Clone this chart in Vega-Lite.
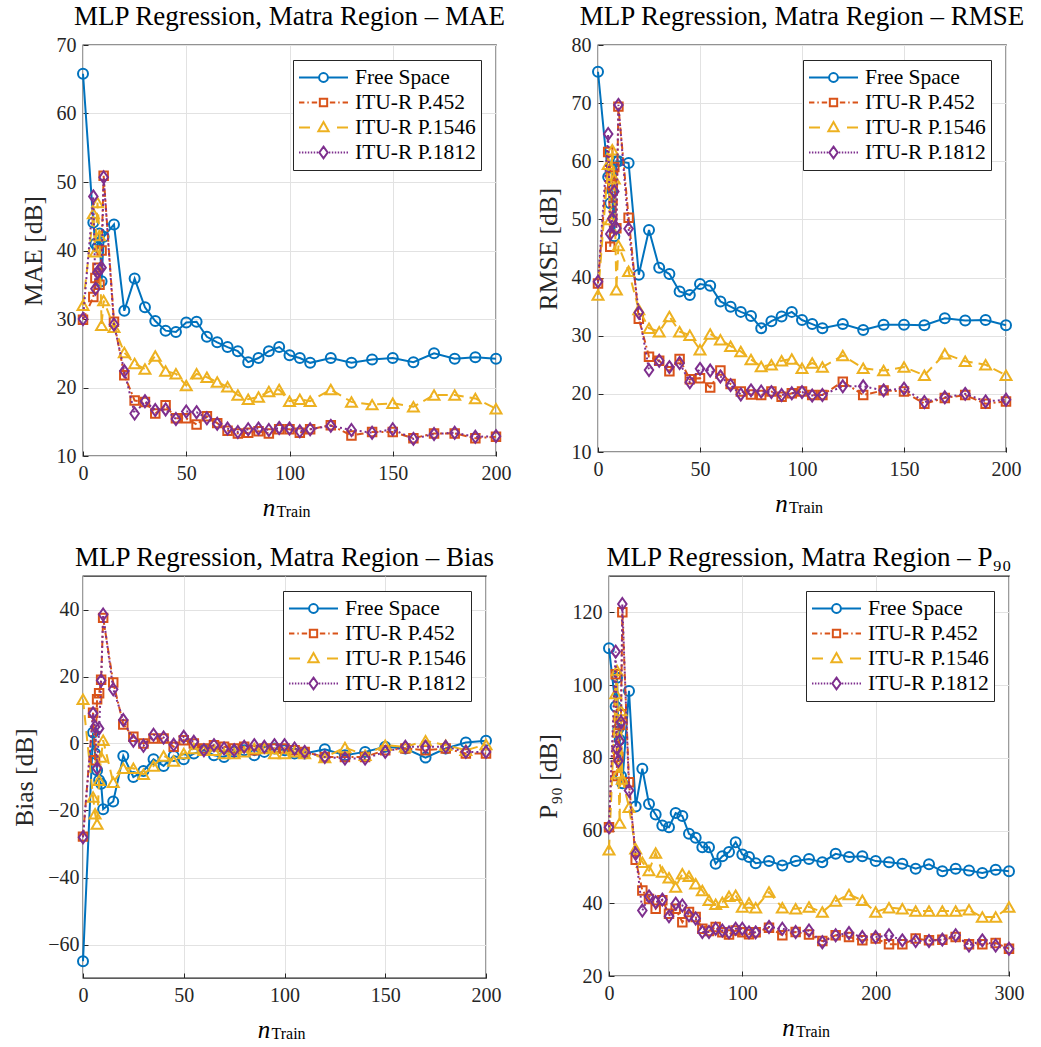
{
  "$schema": "https://vega.github.io/schema/vega-lite/v6.json",
  "padding": {"left": 12, "top": 2, "right": 0, "bottom": 0},
  "background": "white",
  "config": {
    "view": {"stroke": "#262626", "strokeWidth": 1.3},
    "font": "Liberation Serif",
    "style": {"guide-label": {"font": "Liberation Serif"}, "guide-title": {"font": "Liberation Serif"}},
    "axis": {
      "grid": true, "gridColor": "#e2e2e2", "gridWidth": 1, "domain": false,
      "tickColor": "#262626", "tickSize": -5, "tickWidth": 1, "labelFlush": false,
      "labelFont": "Liberation Serif", "labelFontSize": 20, "labelColor": "#262626", "labelPadding": 12,
      "titleFont": "Liberation Serif", "titleFontSize": 25.5, "titleFontWeight": "normal", "titleColor": "#262626", "titlePadding": 10
    },
    "axisX": {"titleFont": "Times New Roman", "titleFontStyle": "italic", "titleFontSize": 25, "titleColor": "black", "titleY": 59, "titleBaseline": "alphabetic"},
    "title": {"font": "Liberation Serif", "fontSize": 27, "fontWeight": "normal", "color": "black", "anchor": "middle", "frame": "group", "offset": 4},
    "legend": {
      "orient": "top-right", "offset": 15, "fillColor": "white", "strokeColor": "#262626", "padding": 5, "rowPadding": 0,
      "clipHeight": 25, "labelFont": "Times New Roman", "labelFontSize": 21.5, "labelColor": "black", "labelOffset": 6,
      "symbolSize": 2401, "symbolStrokeWidth": 2, "symbolOpacity": 1, "cornerRadius": 0
    }
  },
  "datasets": {
    "mae": [
      {"model":"Free Space","n":0,"v":65.8},{"model":"Free Space","n":5,"v":44.1},{"model":"Free Space","n":6,"v":41.0},{"model":"Free Space","n":7,"v":40.5},{"model":"Free Space","n":8,"v":42.5},{"model":"Free Space","n":9,"v":35.5},{"model":"Free Space","n":10,"v":42.0},{"model":"Free Space","n":15,"v":43.8},{"model":"Free Space","n":20,"v":31.2},{"model":"Free Space","n":25,"v":35.9},{"model":"Free Space","n":30,"v":31.7},{"model":"Free Space","n":35,"v":29.7},{"model":"Free Space","n":40,"v":28.3},{"model":"Free Space","n":45,"v":28.1},{"model":"Free Space","n":50,"v":29.5},{"model":"Free Space","n":55,"v":29.6},{"model":"Free Space","n":60,"v":27.4},{"model":"Free Space","n":65,"v":26.6},{"model":"Free Space","n":70,"v":25.9},{"model":"Free Space","n":75,"v":25.3},{"model":"Free Space","n":80,"v":23.7},{"model":"Free Space","n":85,"v":24.3},{"model":"Free Space","n":90,"v":25.3},{"model":"Free Space","n":95,"v":25.9},{"model":"Free Space","n":100,"v":24.7},{"model":"Free Space","n":105,"v":24.3},{"model":"Free Space","n":110,"v":23.6},{"model":"Free Space","n":120,"v":24.3},{"model":"Free Space","n":130,"v":23.6},{"model":"Free Space","n":140,"v":24.1},{"model":"Free Space","n":150,"v":24.3},{"model":"Free Space","n":160,"v":23.7},{"model":"Free Space","n":170,"v":25.0},{"model":"Free Space","n":180,"v":24.2},{"model":"Free Space","n":190,"v":24.4},{"model":"Free Space","n":200,"v":24.2},
      {"model":"ITU-R P.452","n":0,"v":29.9},{"model":"ITU-R P.452","n":5,"v":33.2},{"model":"ITU-R P.452","n":6,"v":36.0},{"model":"ITU-R P.452","n":7,"v":37.5},{"model":"ITU-R P.452","n":8,"v":35.0},{"model":"ITU-R P.452","n":9,"v":40.0},{"model":"ITU-R P.452","n":10,"v":50.9},{"model":"ITU-R P.452","n":15,"v":29.6},{"model":"ITU-R P.452","n":20,"v":21.8},{"model":"ITU-R P.452","n":25,"v":18.1},{"model":"ITU-R P.452","n":30,"v":17.9},{"model":"ITU-R P.452","n":35,"v":16.2},{"model":"ITU-R P.452","n":40,"v":17.4},{"model":"ITU-R P.452","n":45,"v":15.5},{"model":"ITU-R P.452","n":50,"v":15.5},{"model":"ITU-R P.452","n":55,"v":14.6},{"model":"ITU-R P.452","n":60,"v":15.8},{"model":"ITU-R P.452","n":65,"v":14.8},{"model":"ITU-R P.452","n":70,"v":13.7},{"model":"ITU-R P.452","n":75,"v":13.3},{"model":"ITU-R P.452","n":80,"v":13.4},{"model":"ITU-R P.452","n":85,"v":13.6},{"model":"ITU-R P.452","n":90,"v":13.3},{"model":"ITU-R P.452","n":95,"v":13.9},{"model":"ITU-R P.452","n":100,"v":13.9},{"model":"ITU-R P.452","n":105,"v":13.4},{"model":"ITU-R P.452","n":110,"v":13.9},{"model":"ITU-R P.452","n":120,"v":14.5},{"model":"ITU-R P.452","n":130,"v":13.0},{"model":"ITU-R P.452","n":140,"v":13.5},{"model":"ITU-R P.452","n":150,"v":13.5},{"model":"ITU-R P.452","n":160,"v":12.6},{"model":"ITU-R P.452","n":170,"v":13.3},{"model":"ITU-R P.452","n":180,"v":13.3},{"model":"ITU-R P.452","n":190,"v":12.6},{"model":"ITU-R P.452","n":200,"v":12.8},
      {"model":"ITU-R P.1546","n":0,"v":32.0},{"model":"ITU-R P.1546","n":5,"v":45.4},{"model":"ITU-R P.1546","n":6,"v":39.8},{"model":"ITU-R P.1546","n":7,"v":47.0},{"model":"ITU-R P.1546","n":8,"v":42.2},{"model":"ITU-R P.1546","n":9,"v":29.1},{"model":"ITU-R P.1546","n":10,"v":32.7},{"model":"ITU-R P.1546","n":15,"v":28.8},{"model":"ITU-R P.1546","n":20,"v":25.1},{"model":"ITU-R P.1546","n":25,"v":23.5},{"model":"ITU-R P.1546","n":30,"v":22.7},{"model":"ITU-R P.1546","n":35,"v":24.6},{"model":"ITU-R P.1546","n":40,"v":22.4},{"model":"ITU-R P.1546","n":45,"v":22.0},{"model":"ITU-R P.1546","n":50,"v":20.3},{"model":"ITU-R P.1546","n":55,"v":22.0},{"model":"ITU-R P.1546","n":60,"v":21.5},{"model":"ITU-R P.1546","n":65,"v":20.8},{"model":"ITU-R P.1546","n":70,"v":20.1},{"model":"ITU-R P.1546","n":75,"v":18.9},{"model":"ITU-R P.1546","n":80,"v":18.3},{"model":"ITU-R P.1546","n":85,"v":18.6},{"model":"ITU-R P.1546","n":90,"v":19.4},{"model":"ITU-R P.1546","n":95,"v":19.7},{"model":"ITU-R P.1546","n":100,"v":18.0},{"model":"ITU-R P.1546","n":105,"v":18.3},{"model":"ITU-R P.1546","n":110,"v":18.0},{"model":"ITU-R P.1546","n":120,"v":19.7},{"model":"ITU-R P.1546","n":130,"v":17.9},{"model":"ITU-R P.1546","n":140,"v":17.5},{"model":"ITU-R P.1546","n":150,"v":17.7},{"model":"ITU-R P.1546","n":160,"v":17.2},{"model":"ITU-R P.1546","n":170,"v":18.9},{"model":"ITU-R P.1546","n":180,"v":18.9},{"model":"ITU-R P.1546","n":190,"v":18.4},{"model":"ITU-R P.1546","n":200,"v":16.9},
      {"model":"ITU-R P.1812","n":0,"v":30.0},{"model":"ITU-R P.1812","n":5,"v":47.9},{"model":"ITU-R P.1812","n":6,"v":34.4},{"model":"ITU-R P.1812","n":7,"v":36.8},{"model":"ITU-R P.1812","n":8,"v":37.2},{"model":"ITU-R P.1812","n":9,"v":37.5},{"model":"ITU-R P.1812","n":10,"v":50.7},{"model":"ITU-R P.1812","n":15,"v":29.2},{"model":"ITU-R P.1812","n":20,"v":22.4},{"model":"ITU-R P.1812","n":25,"v":16.2},{"model":"ITU-R P.1812","n":30,"v":18.0},{"model":"ITU-R P.1812","n":35,"v":16.7},{"model":"ITU-R P.1812","n":40,"v":16.8},{"model":"ITU-R P.1812","n":45,"v":15.4},{"model":"ITU-R P.1812","n":50,"v":16.5},{"model":"ITU-R P.1812","n":55,"v":16.4},{"model":"ITU-R P.1812","n":60,"v":15.5},{"model":"ITU-R P.1812","n":65,"v":14.7},{"model":"ITU-R P.1812","n":70,"v":14.0},{"model":"ITU-R P.1812","n":75,"v":13.5},{"model":"ITU-R P.1812","n":80,"v":13.9},{"model":"ITU-R P.1812","n":85,"v":14.0},{"model":"ITU-R P.1812","n":90,"v":13.8},{"model":"ITU-R P.1812","n":95,"v":14.1},{"model":"ITU-R P.1812","n":100,"v":14.0},{"model":"ITU-R P.1812","n":105,"v":13.6},{"model":"ITU-R P.1812","n":110,"v":13.9},{"model":"ITU-R P.1812","n":120,"v":14.4},{"model":"ITU-R P.1812","n":130,"v":13.8},{"model":"ITU-R P.1812","n":140,"v":13.4},{"model":"ITU-R P.1812","n":150,"v":13.9},{"model":"ITU-R P.1812","n":160,"v":12.5},{"model":"ITU-R P.1812","n":170,"v":13.2},{"model":"ITU-R P.1812","n":180,"v":13.4},{"model":"ITU-R P.1812","n":190,"v":12.8},{"model":"ITU-R P.1812","n":200,"v":12.9}
    ],
    "rmse": [
      {"model":"Free Space","n":0,"v":75.4},{"model":"Free Space","n":5,"v":57.3},{"model":"Free Space","n":6,"v":52.8},{"model":"Free Space","n":7,"v":55.0},{"model":"Free Space","n":8,"v":47.1},{"model":"Free Space","n":9,"v":60.0},{"model":"Free Space","n":10,"v":60.0},{"model":"Free Space","n":15,"v":59.7},{"model":"Free Space","n":20,"v":40.5},{"model":"Free Space","n":25,"v":48.2},{"model":"Free Space","n":30,"v":41.7},{"model":"Free Space","n":35,"v":40.6},{"model":"Free Space","n":40,"v":37.6},{"model":"Free Space","n":45,"v":37.0},{"model":"Free Space","n":50,"v":38.9},{"model":"Free Space","n":55,"v":38.6},{"model":"Free Space","n":60,"v":35.9},{"model":"Free Space","n":65,"v":35.0},{"model":"Free Space","n":70,"v":34.1},{"model":"Free Space","n":75,"v":33.4},{"model":"Free Space","n":80,"v":31.3},{"model":"Free Space","n":85,"v":32.5},{"model":"Free Space","n":90,"v":33.3},{"model":"Free Space","n":95,"v":34.1},{"model":"Free Space","n":100,"v":32.7},{"model":"Free Space","n":105,"v":32.0},{"model":"Free Space","n":110,"v":31.3},{"model":"Free Space","n":120,"v":32.0},{"model":"Free Space","n":130,"v":31.0},{"model":"Free Space","n":140,"v":31.9},{"model":"Free Space","n":150,"v":31.9},{"model":"Free Space","n":160,"v":31.8},{"model":"Free Space","n":170,"v":33.0},{"model":"Free Space","n":180,"v":32.6},{"model":"Free Space","n":190,"v":32.7},{"model":"Free Space","n":200,"v":31.8},
      {"model":"ITU-R P.452","n":0,"v":39.0},{"model":"ITU-R P.452","n":5,"v":61.6},{"model":"ITU-R P.452","n":6,"v":45.3},{"model":"ITU-R P.452","n":7,"v":56.0},{"model":"ITU-R P.452","n":8,"v":59.0},{"model":"ITU-R P.452","n":9,"v":48.5},{"model":"ITU-R P.452","n":10,"v":69.4},{"model":"ITU-R P.452","n":15,"v":50.3},{"model":"ITU-R P.452","n":20,"v":32.9},{"model":"ITU-R P.452","n":25,"v":26.4},{"model":"ITU-R P.452","n":30,"v":25.7},{"model":"ITU-R P.452","n":35,"v":23.9},{"model":"ITU-R P.452","n":40,"v":26.0},{"model":"ITU-R P.452","n":45,"v":22.5},{"model":"ITU-R P.452","n":50,"v":22.7},{"model":"ITU-R P.452","n":55,"v":21.1},{"model":"ITU-R P.452","n":60,"v":24.0},{"model":"ITU-R P.452","n":65,"v":21.7},{"model":"ITU-R P.452","n":70,"v":20.4},{"model":"ITU-R P.452","n":75,"v":19.9},{"model":"ITU-R P.452","n":80,"v":19.8},{"model":"ITU-R P.452","n":85,"v":20.4},{"model":"ITU-R P.452","n":90,"v":19.5},{"model":"ITU-R P.452","n":95,"v":20.1},{"model":"ITU-R P.452","n":100,"v":20.4},{"model":"ITU-R P.452","n":105,"v":19.8},{"model":"ITU-R P.452","n":110,"v":19.8},{"model":"ITU-R P.452","n":120,"v":22.1},{"model":"ITU-R P.452","n":130,"v":19.8},{"model":"ITU-R P.452","n":140,"v":20.6},{"model":"ITU-R P.452","n":150,"v":20.4},{"model":"ITU-R P.452","n":160,"v":18.3},{"model":"ITU-R P.452","n":170,"v":19.3},{"model":"ITU-R P.452","n":180,"v":19.8},{"model":"ITU-R P.452","n":190,"v":18.3},{"model":"ITU-R P.452","n":200,"v":18.7},
      {"model":"ITU-R P.1546","n":0,"v":37.0},{"model":"ITU-R P.1546","n":5,"v":59.5},{"model":"ITU-R P.1546","n":6,"v":50.0},{"model":"ITU-R P.1546","n":7,"v":62.0},{"model":"ITU-R P.1546","n":8,"v":57.0},{"model":"ITU-R P.1546","n":9,"v":37.9},{"model":"ITU-R P.1546","n":10,"v":45.5},{"model":"ITU-R P.1546","n":15,"v":41.1},{"model":"ITU-R P.1546","n":20,"v":34.5},{"model":"ITU-R P.1546","n":25,"v":31.3},{"model":"ITU-R P.1546","n":30,"v":30.7},{"model":"ITU-R P.1546","n":35,"v":33.3},{"model":"ITU-R P.1546","n":40,"v":30.7},{"model":"ITU-R P.1546","n":45,"v":30.1},{"model":"ITU-R P.1546","n":50,"v":27.6},{"model":"ITU-R P.1546","n":55,"v":30.3},{"model":"ITU-R P.1546","n":60,"v":29.3},{"model":"ITU-R P.1546","n":65,"v":28.2},{"model":"ITU-R P.1546","n":70,"v":27.3},{"model":"ITU-R P.1546","n":75,"v":25.9},{"model":"ITU-R P.1546","n":80,"v":24.7},{"model":"ITU-R P.1546","n":85,"v":25.0},{"model":"ITU-R P.1546","n":90,"v":25.7},{"model":"ITU-R P.1546","n":95,"v":26.0},{"model":"ITU-R P.1546","n":100,"v":24.4},{"model":"ITU-R P.1546","n":105,"v":25.3},{"model":"ITU-R P.1546","n":110,"v":24.6},{"model":"ITU-R P.1546","n":120,"v":26.6},{"model":"ITU-R P.1546","n":130,"v":24.4},{"model":"ITU-R P.1546","n":140,"v":24.0},{"model":"ITU-R P.1546","n":150,"v":24.6},{"model":"ITU-R P.1546","n":160,"v":23.2},{"model":"ITU-R P.1546","n":170,"v":26.9},{"model":"ITU-R P.1546","n":180,"v":25.6},{"model":"ITU-R P.1546","n":190,"v":25.0},{"model":"ITU-R P.1546","n":200,"v":23.2},
      {"model":"ITU-R P.1812","n":0,"v":39.3},{"model":"ITU-R P.1812","n":5,"v":64.7},{"model":"ITU-R P.1812","n":6,"v":47.5},{"model":"ITU-R P.1812","n":7,"v":50.1},{"model":"ITU-R P.1812","n":8,"v":54.8},{"model":"ITU-R P.1812","n":9,"v":48.5},{"model":"ITU-R P.1812","n":10,"v":69.7},{"model":"ITU-R P.1812","n":15,"v":48.4},{"model":"ITU-R P.1812","n":20,"v":34.0},{"model":"ITU-R P.1812","n":25,"v":24.1},{"model":"ITU-R P.1812","n":30,"v":25.7},{"model":"ITU-R P.1812","n":35,"v":24.6},{"model":"ITU-R P.1812","n":40,"v":25.3},{"model":"ITU-R P.1812","n":45,"v":22.0},{"model":"ITU-R P.1812","n":50,"v":24.3},{"model":"ITU-R P.1812","n":55,"v":24.0},{"model":"ITU-R P.1812","n":60,"v":23.0},{"model":"ITU-R P.1812","n":65,"v":21.5},{"model":"ITU-R P.1812","n":70,"v":19.9},{"model":"ITU-R P.1812","n":75,"v":20.6},{"model":"ITU-R P.1812","n":80,"v":20.4},{"model":"ITU-R P.1812","n":85,"v":20.3},{"model":"ITU-R P.1812","n":90,"v":19.8},{"model":"ITU-R P.1812","n":95,"v":20.1},{"model":"ITU-R P.1812","n":100,"v":20.3},{"model":"ITU-R P.1812","n":105,"v":19.7},{"model":"ITU-R P.1812","n":110,"v":19.8},{"model":"ITU-R P.1812","n":120,"v":21.3},{"model":"ITU-R P.1812","n":130,"v":21.3},{"model":"ITU-R P.1812","n":140,"v":20.6},{"model":"ITU-R P.1812","n":150,"v":20.9},{"model":"ITU-R P.1812","n":160,"v":18.6},{"model":"ITU-R P.1812","n":170,"v":19.4},{"model":"ITU-R P.1812","n":180,"v":20.0},{"model":"ITU-R P.1812","n":190,"v":18.7},{"model":"ITU-R P.1812","n":200,"v":19.0}
    ],
    "bias": [
      {"model":"Free Space","n":0,"v":-65.0},{"model":"Free Space","n":5,"v":3.3},{"model":"Free Space","n":6,"v":-3.0},{"model":"Free Space","n":7,"v":-8.0},{"model":"Free Space","n":8,"v":-11.0},{"model":"Free Space","n":9,"v":-12.0},{"model":"Free Space","n":10,"v":-19.6},{"model":"Free Space","n":15,"v":-17.3},{"model":"Free Space","n":20,"v":-3.7},{"model":"Free Space","n":25,"v":-10.0},{"model":"Free Space","n":30,"v":-8.2},{"model":"Free Space","n":35,"v":-4.7},{"model":"Free Space","n":40,"v":-6.7},{"model":"Free Space","n":45,"v":-3.7},{"model":"Free Space","n":50,"v":-4.7},{"model":"Free Space","n":55,"v":-3.0},{"model":"Free Space","n":60,"v":-2.0},{"model":"Free Space","n":65,"v":-3.5},{"model":"Free Space","n":70,"v":-4.0},{"model":"Free Space","n":75,"v":-2.5},{"model":"Free Space","n":80,"v":-2.0},{"model":"Free Space","n":85,"v":-3.5},{"model":"Free Space","n":90,"v":-2.5},{"model":"Free Space","n":95,"v":-1.5},{"model":"Free Space","n":100,"v":-2.0},{"model":"Free Space","n":105,"v":-3.0},{"model":"Free Space","n":110,"v":-3.0},{"model":"Free Space","n":120,"v":-1.7},{"model":"Free Space","n":130,"v":-3.5},{"model":"Free Space","n":140,"v":-2.5},{"model":"Free Space","n":150,"v":-1.0},{"model":"Free Space","n":160,"v":-1.5},{"model":"Free Space","n":170,"v":-4.2},{"model":"Free Space","n":180,"v":-1.5},{"model":"Free Space","n":190,"v":0.3},{"model":"Free Space","n":200,"v":0.8},
      {"model":"ITU-R P.452","n":0,"v":-27.8},{"model":"ITU-R P.452","n":5,"v":9.2},{"model":"ITU-R P.452","n":6,"v":-5.0},{"model":"ITU-R P.452","n":7,"v":13.2},{"model":"ITU-R P.452","n":8,"v":15.0},{"model":"ITU-R P.452","n":9,"v":19.0},{"model":"ITU-R P.452","n":10,"v":37.5},{"model":"ITU-R P.452","n":15,"v":18.2},{"model":"ITU-R P.452","n":20,"v":5.7},{"model":"ITU-R P.452","n":25,"v":2.0},{"model":"ITU-R P.452","n":30,"v":0.0},{"model":"ITU-R P.452","n":35,"v":1.5},{"model":"ITU-R P.452","n":40,"v":1.5},{"model":"ITU-R P.452","n":45,"v":-1.0},{"model":"ITU-R P.452","n":50,"v":1.0},{"model":"ITU-R P.452","n":55,"v":0.0},{"model":"ITU-R P.452","n":60,"v":-1.5},{"model":"ITU-R P.452","n":65,"v":-0.5},{"model":"ITU-R P.452","n":70,"v":-1.0},{"model":"ITU-R P.452","n":75,"v":-1.5},{"model":"ITU-R P.452","n":80,"v":-1.0},{"model":"ITU-R P.452","n":85,"v":-2.0},{"model":"ITU-R P.452","n":90,"v":-1.5},{"model":"ITU-R P.452","n":95,"v":-1.5},{"model":"ITU-R P.452","n":100,"v":-1.5},{"model":"ITU-R P.452","n":105,"v":-2.0},{"model":"ITU-R P.452","n":110,"v":-2.5},{"model":"ITU-R P.452","n":120,"v":-4.0},{"model":"ITU-R P.452","n":130,"v":-4.0},{"model":"ITU-R P.452","n":140,"v":-4.0},{"model":"ITU-R P.452","n":150,"v":-2.0},{"model":"ITU-R P.452","n":160,"v":-1.5},{"model":"ITU-R P.452","n":170,"v":-2.0},{"model":"ITU-R P.452","n":180,"v":-1.5},{"model":"ITU-R P.452","n":190,"v":-3.0},{"model":"ITU-R P.452","n":200,"v":-3.0},
      {"model":"ITU-R P.1546","n":0,"v":13.2},{"model":"ITU-R P.1546","n":5,"v":-16.0},{"model":"ITU-R P.1546","n":6,"v":-21.0},{"model":"ITU-R P.1546","n":7,"v":-24.0},{"model":"ITU-R P.1546","n":8,"v":-11.0},{"model":"ITU-R P.1546","n":9,"v":-4.0},{"model":"ITU-R P.1546","n":10,"v":1.0},{"model":"ITU-R P.1546","n":15,"v":-11.6},{"model":"ITU-R P.1546","n":20,"v":-7.4},{"model":"ITU-R P.1546","n":25,"v":-7.4},{"model":"ITU-R P.1546","n":30,"v":-9.2},{"model":"ITU-R P.1546","n":35,"v":-6.7},{"model":"ITU-R P.1546","n":40,"v":-3.7},{"model":"ITU-R P.1546","n":45,"v":-5.2},{"model":"ITU-R P.1546","n":50,"v":-3.0},{"model":"ITU-R P.1546","n":55,"v":-1.5},{"model":"ITU-R P.1546","n":60,"v":-2.0},{"model":"ITU-R P.1546","n":65,"v":-2.0},{"model":"ITU-R P.1546","n":70,"v":-3.0},{"model":"ITU-R P.1546","n":75,"v":-3.0},{"model":"ITU-R P.1546","n":80,"v":-2.5},{"model":"ITU-R P.1546","n":85,"v":-1.5},{"model":"ITU-R P.1546","n":90,"v":-1.5},{"model":"ITU-R P.1546","n":95,"v":-3.0},{"model":"ITU-R P.1546","n":100,"v":-3.0},{"model":"ITU-R P.1546","n":105,"v":-2.5},{"model":"ITU-R P.1546","n":110,"v":-3.0},{"model":"ITU-R P.1546","n":120,"v":-4.2},{"model":"ITU-R P.1546","n":130,"v":-1.2},{"model":"ITU-R P.1546","n":140,"v":-3.5},{"model":"ITU-R P.1546","n":150,"v":-0.5},{"model":"ITU-R P.1546","n":160,"v":-1.0},{"model":"ITU-R P.1546","n":170,"v":0.8},{"model":"ITU-R P.1546","n":180,"v":-0.5},{"model":"ITU-R P.1546","n":190,"v":-2.0},{"model":"ITU-R P.1546","n":200,"v":-0.3},
      {"model":"ITU-R P.1812","n":0,"v":-28.0},{"model":"ITU-R P.1812","n":5,"v":9.0},{"model":"ITU-R P.1812","n":6,"v":5.0},{"model":"ITU-R P.1812","n":7,"v":-7.4},{"model":"ITU-R P.1812","n":8,"v":4.5},{"model":"ITU-R P.1812","n":9,"v":18.8},{"model":"ITU-R P.1812","n":10,"v":38.5},{"model":"ITU-R P.1812","n":15,"v":16.2},{"model":"ITU-R P.1812","n":20,"v":7.0},{"model":"ITU-R P.1812","n":25,"v":0.8},{"model":"ITU-R P.1812","n":30,"v":-0.7},{"model":"ITU-R P.1812","n":35,"v":2.6},{"model":"ITU-R P.1812","n":40,"v":1.8},{"model":"ITU-R P.1812","n":45,"v":-0.4},{"model":"ITU-R P.1812","n":50,"v":2.0},{"model":"ITU-R P.1812","n":55,"v":0.5},{"model":"ITU-R P.1812","n":60,"v":-2.0},{"model":"ITU-R P.1812","n":65,"v":-0.5},{"model":"ITU-R P.1812","n":70,"v":-1.5},{"model":"ITU-R P.1812","n":75,"v":-2.0},{"model":"ITU-R P.1812","n":80,"v":-1.0},{"model":"ITU-R P.1812","n":85,"v":-0.5},{"model":"ITU-R P.1812","n":90,"v":-1.0},{"model":"ITU-R P.1812","n":95,"v":-0.5},{"model":"ITU-R P.1812","n":100,"v":-0.5},{"model":"ITU-R P.1812","n":105,"v":-1.5},{"model":"ITU-R P.1812","n":110,"v":-2.5},{"model":"ITU-R P.1812","n":120,"v":-4.0},{"model":"ITU-R P.1812","n":130,"v":-4.5},{"model":"ITU-R P.1812","n":140,"v":-4.5},{"model":"ITU-R P.1812","n":150,"v":-2.5},{"model":"ITU-R P.1812","n":160,"v":-1.0},{"model":"ITU-R P.1812","n":170,"v":-1.0},{"model":"ITU-R P.1812","n":180,"v":-1.0},{"model":"ITU-R P.1812","n":190,"v":-2.5},{"model":"ITU-R P.1812","n":200,"v":-2.5}
    ],
    "p90": [
      {"model":"Free Space","n":0,"v":110.1},{"model":"Free Space","n":5,"v":94.1},{"model":"Free Space","n":6,"v":102.0},{"model":"Free Space","n":7,"v":88.0},{"model":"Free Space","n":8,"v":85.0},{"model":"Free Space","n":9,"v":75.0},{"model":"Free Space","n":10,"v":73.0},{"model":"Free Space","n":15,"v":98.4},{"model":"Free Space","n":20,"v":66.6},{"model":"Free Space","n":25,"v":77.0},{"model":"Free Space","n":30,"v":67.3},{"model":"Free Space","n":35,"v":64.4},{"model":"Free Space","n":40,"v":61.4},{"model":"Free Space","n":45,"v":60.9},{"model":"Free Space","n":50,"v":64.8},{"model":"Free Space","n":55,"v":64.0},{"model":"Free Space","n":60,"v":59.1},{"model":"Free Space","n":65,"v":58.0},{"model":"Free Space","n":70,"v":55.4},{"model":"Free Space","n":75,"v":55.4},{"model":"Free Space","n":80,"v":50.9},{"model":"Free Space","n":85,"v":52.9},{"model":"Free Space","n":90,"v":54.1},{"model":"Free Space","n":95,"v":56.8},{"model":"Free Space","n":100,"v":53.4},{"model":"Free Space","n":105,"v":52.7},{"model":"Free Space","n":110,"v":51.0},{"model":"Free Space","n":120,"v":51.6},{"model":"Free Space","n":130,"v":50.4},{"model":"Free Space","n":140,"v":51.6},{"model":"Free Space","n":150,"v":52.2},{"model":"Free Space","n":160,"v":51.3},{"model":"Free Space","n":170,"v":53.6},{"model":"Free Space","n":180,"v":52.7},{"model":"Free Space","n":190,"v":52.9},{"model":"Free Space","n":200,"v":51.6},{"model":"Free Space","n":210,"v":51.3},{"model":"Free Space","n":220,"v":50.9},{"model":"Free Space","n":230,"v":49.5},{"model":"Free Space","n":240,"v":50.7},{"model":"Free Space","n":250,"v":48.8},{"model":"Free Space","n":260,"v":49.5},{"model":"Free Space","n":270,"v":49.0},{"model":"Free Space","n":280,"v":48.3},{"model":"Free Space","n":290,"v":49.2},{"model":"Free Space","n":300,"v":48.8},
      {"model":"ITU-R P.452","n":0,"v":60.9},{"model":"ITU-R P.452","n":5,"v":103.0},{"model":"ITU-R P.452","n":6,"v":75.0},{"model":"ITU-R P.452","n":7,"v":80.2},{"model":"ITU-R P.452","n":8,"v":89.0},{"model":"ITU-R P.452","n":9,"v":92.0},{"model":"ITU-R P.452","n":10,"v":120.0},{"model":"ITU-R P.452","n":15,"v":73.3},{"model":"ITU-R P.452","n":20,"v":52.0},{"model":"ITU-R P.452","n":25,"v":43.5},{"model":"ITU-R P.452","n":30,"v":41.2},{"model":"ITU-R P.452","n":35,"v":38.5},{"model":"ITU-R P.452","n":40,"v":40.8},{"model":"ITU-R P.452","n":45,"v":37.1},{"model":"ITU-R P.452","n":50,"v":38.5},{"model":"ITU-R P.452","n":55,"v":34.8},{"model":"ITU-R P.452","n":60,"v":37.6},{"model":"ITU-R P.452","n":65,"v":36.2},{"model":"ITU-R P.452","n":70,"v":33.0},{"model":"ITU-R P.452","n":75,"v":32.4},{"model":"ITU-R P.452","n":80,"v":33.5},{"model":"ITU-R P.452","n":85,"v":32.0},{"model":"ITU-R P.452","n":90,"v":31.4},{"model":"ITU-R P.452","n":95,"v":32.5},{"model":"ITU-R P.452","n":100,"v":32.0},{"model":"ITU-R P.452","n":105,"v":31.5},{"model":"ITU-R P.452","n":110,"v":32.0},{"model":"ITU-R P.452","n":120,"v":33.3},{"model":"ITU-R P.452","n":130,"v":31.2},{"model":"ITU-R P.452","n":140,"v":32.1},{"model":"ITU-R P.452","n":150,"v":31.4},{"model":"ITU-R P.452","n":160,"v":29.6},{"model":"ITU-R P.452","n":170,"v":31.2},{"model":"ITU-R P.452","n":180,"v":30.7},{"model":"ITU-R P.452","n":190,"v":29.8},{"model":"ITU-R P.452","n":200,"v":30.3},{"model":"ITU-R P.452","n":210,"v":28.7},{"model":"ITU-R P.452","n":220,"v":28.7},{"model":"ITU-R P.452","n":230,"v":30.3},{"model":"ITU-R P.452","n":240,"v":29.8},{"model":"ITU-R P.452","n":250,"v":30.0},{"model":"ITU-R P.452","n":260,"v":30.7},{"model":"ITU-R P.452","n":270,"v":28.7},{"model":"ITU-R P.452","n":280,"v":28.7},{"model":"ITU-R P.452","n":290,"v":29.1},{"model":"ITU-R P.452","n":300,"v":27.5},
      {"model":"ITU-R P.1546","n":0,"v":54.7},{"model":"ITU-R P.1546","n":5,"v":97.7},{"model":"ITU-R P.1546","n":6,"v":104.0},{"model":"ITU-R P.1546","n":7,"v":75.8},{"model":"ITU-R P.1546","n":8,"v":62.1},{"model":"ITU-R P.1546","n":9,"v":93.0},{"model":"ITU-R P.1546","n":10,"v":74.2},{"model":"ITU-R P.1546","n":15,"v":66.4},{"model":"ITU-R P.1546","n":20,"v":55.0},{"model":"ITU-R P.1546","n":25,"v":51.3},{"model":"ITU-R P.1546","n":30,"v":49.0},{"model":"ITU-R P.1546","n":35,"v":53.8},{"model":"ITU-R P.1546","n":40,"v":48.6},{"model":"ITU-R P.1546","n":45,"v":47.0},{"model":"ITU-R P.1546","n":50,"v":44.5},{"model":"ITU-R P.1546","n":55,"v":48.1},{"model":"ITU-R P.1546","n":60,"v":47.4},{"model":"ITU-R P.1546","n":65,"v":45.4},{"model":"ITU-R P.1546","n":70,"v":43.5},{"model":"ITU-R P.1546","n":75,"v":40.8},{"model":"ITU-R P.1546","n":80,"v":39.7},{"model":"ITU-R P.1546","n":85,"v":40.3},{"model":"ITU-R P.1546","n":90,"v":41.9},{"model":"ITU-R P.1546","n":95,"v":42.2},{"model":"ITU-R P.1546","n":100,"v":39.0},{"model":"ITU-R P.1546","n":105,"v":40.1},{"model":"ITU-R P.1546","n":110,"v":38.8},{"model":"ITU-R P.1546","n":120,"v":43.1},{"model":"ITU-R P.1546","n":130,"v":38.8},{"model":"ITU-R P.1546","n":140,"v":38.5},{"model":"ITU-R P.1546","n":150,"v":39.0},{"model":"ITU-R P.1546","n":160,"v":37.6},{"model":"ITU-R P.1546","n":170,"v":40.6},{"model":"ITU-R P.1546","n":180,"v":42.4},{"model":"ITU-R P.1546","n":190,"v":40.8},{"model":"ITU-R P.1546","n":200,"v":37.6},{"model":"ITU-R P.1546","n":210,"v":38.8},{"model":"ITU-R P.1546","n":220,"v":38.5},{"model":"ITU-R P.1546","n":230,"v":37.9},{"model":"ITU-R P.1546","n":240,"v":37.9},{"model":"ITU-R P.1546","n":250,"v":37.9},{"model":"ITU-R P.1546","n":260,"v":37.9},{"model":"ITU-R P.1546","n":270,"v":38.2},{"model":"ITU-R P.1546","n":280,"v":36.2},{"model":"ITU-R P.1546","n":290,"v":36.2},{"model":"ITU-R P.1546","n":300,"v":39.0},
      {"model":"ITU-R P.1812","n":0,"v":60.9},{"model":"ITU-R P.1812","n":5,"v":109.2},{"model":"ITU-R P.1812","n":6,"v":82.5},{"model":"ITU-R P.1812","n":7,"v":79.1},{"model":"ITU-R P.1812","n":8,"v":84.6},{"model":"ITU-R P.1812","n":9,"v":89.8},{"model":"ITU-R P.1812","n":10,"v":122.3},{"model":"ITU-R P.1812","n":15,"v":71.0},{"model":"ITU-R P.1812","n":20,"v":53.6},{"model":"ITU-R P.1812","n":25,"v":38.0},{"model":"ITU-R P.1812","n":30,"v":41.9},{"model":"ITU-R P.1812","n":35,"v":40.3},{"model":"ITU-R P.1812","n":40,"v":41.0},{"model":"ITU-R P.1812","n":45,"v":36.4},{"model":"ITU-R P.1812","n":50,"v":39.9},{"model":"ITU-R P.1812","n":55,"v":39.4},{"model":"ITU-R P.1812","n":60,"v":36.7},{"model":"ITU-R P.1812","n":65,"v":35.8},{"model":"ITU-R P.1812","n":70,"v":32.1},{"model":"ITU-R P.1812","n":75,"v":32.1},{"model":"ITU-R P.1812","n":80,"v":33.0},{"model":"ITU-R P.1812","n":85,"v":32.5},{"model":"ITU-R P.1812","n":90,"v":32.0},{"model":"ITU-R P.1812","n":95,"v":33.0},{"model":"ITU-R P.1812","n":100,"v":33.0},{"model":"ITU-R P.1812","n":105,"v":32.0},{"model":"ITU-R P.1812","n":110,"v":32.0},{"model":"ITU-R P.1812","n":120,"v":33.5},{"model":"ITU-R P.1812","n":130,"v":33.0},{"model":"ITU-R P.1812","n":140,"v":32.1},{"model":"ITU-R P.1812","n":150,"v":32.5},{"model":"ITU-R P.1812","n":160,"v":29.3},{"model":"ITU-R P.1812","n":170,"v":31.2},{"model":"ITU-R P.1812","n":180,"v":31.8},{"model":"ITU-R P.1812","n":190,"v":30.7},{"model":"ITU-R P.1812","n":200,"v":30.7},{"model":"ITU-R P.1812","n":210,"v":31.2},{"model":"ITU-R P.1812","n":220,"v":29.8},{"model":"ITU-R P.1812","n":230,"v":29.6},{"model":"ITU-R P.1812","n":240,"v":29.6},{"model":"ITU-R P.1812","n":250,"v":30.0},{"model":"ITU-R P.1812","n":260,"v":31.2},{"model":"ITU-R P.1812","n":270,"v":28.4},{"model":"ITU-R P.1812","n":280,"v":29.8},{"model":"ITU-R P.1812","n":290,"v":28.4},{"model":"ITU-R P.1812","n":300,"v":27.5}
    ]
  },
  "resolve": {"scale": {"color": "independent", "shape": "independent"}},
  "columns": 2,
  "align": "none",
  "spacing": {"row": 22, "column": 23},
  "concat": [
    {
      "title": {"text": "MLP Regression, Matra Region – MAE"},
      "width": 413, "height": 411,
      "data": {"name": "mae"},
      "encoding": {
        "x": {"field": "n", "type": "quantitative", "scale": {"domain": [0, 200], "nice": false}, "axis": {"values": [0, 50, 100, 150, 200], "title": "n", "titleX": 185.5}},
        "y": {"field": "v", "type": "quantitative", "scale": {"domain": [10, 70], "nice": false, "zero": false}, "axis": {"values": [10, 20, 30, 40, 50, 60, 70], "title": "MAE [dB]"}}
      },
      "layer": [
        {"transform": [{"filter": "datum.model == 'Free Space'"}], "mark": {"type": "line", "color": "#0072BD", "strokeWidth": 2}},
        {"transform": [{"filter": "datum.model == 'Free Space'"}], "mark": {"type": "point", "shape": "circle", "color": "#0072BD", "filled": false, "strokeWidth": 2, "size": 100, "opacity": 1}},
        {"transform": [{"filter": "datum.model == 'ITU-R P.452'"}], "mark": {"type": "line", "color": "#D95319", "strokeWidth": 2, "strokeDash": [7, 3, 2, 3]}},
        {"transform": [{"filter": "datum.model == 'ITU-R P.452'"}], "mark": {"type": "point", "shape": "square", "color": "#D95319", "filled": false, "strokeWidth": 2, "size": 72, "opacity": 1}},
        {"transform": [{"filter": "datum.model == 'ITU-R P.1546'"}], "mark": {"type": "line", "color": "#EDB120", "strokeWidth": 2, "strokeDash": [10, 6]}},
        {"transform": [{"filter": "datum.model == 'ITU-R P.1546'"}], "mark": {"type": "point", "shape": "triangle-up", "color": "#EDB120", "filled": false, "strokeWidth": 2, "size": 120, "opacity": 1}},
        {"transform": [{"filter": "datum.model == 'ITU-R P.1812'"}], "mark": {"type": "line", "color": "#7E2F8E", "strokeWidth": 2, "strokeDash": [2, 3]}},
        {"transform": [{"filter": "datum.model == 'ITU-R P.1812'"}], "mark": {"type": "point", "shape": "M0,-1.2L0.85,0L0,1.2L-0.85,0Z", "color": "#7E2F8E", "filled": false, "strokeWidth": 2, "size": 100, "opacity": 1}},
        {"transform": [{"filter": "false"}], "mark": {"type": "point", "filled": false, "strokeWidth": 2, "opacity": 1},
         "encoding": {
           "color": {"field": "model", "type": "nominal", "scale": {"domain": ["Free Space", "ITU-R P.452", "ITU-R P.1546", "ITU-R P.1812"], "range": ["#0072BD", "#D95319", "#EDB120", "#7E2F8E"]}, "legend": {"title": null, "labelFont": "Times New Roman"}},
           "shape": {"field": "model", "type": "nominal", "scale": {"domain": ["Free Space", "ITU-R P.452", "ITU-R P.1546", "ITU-R P.1812"], "range": ["M-1,0L-0.18,0M0.18,0L1,0M0.18,0A0.18,0.18,0,1,1,-0.18,0A0.18,0.18,0,1,1,0.18,0", "M-1,0L-0.78,0M-0.66,0L-0.6,0M-0.48,0L-0.26,0M-0.15,-0.15L0.15,-0.15L0.15,0.15L-0.15,0.15ZM0.26,0L0.48,0M0.6,0L0.66,0M0.78,0L1,0", "M-1,0L-0.55,0M0.55,0L1,0M0,-0.22L0.21,0.15L-0.21,0.15Z", "M-1,0L-0.94,0M-0.88,0L-0.82,0M-0.76,0L-0.7,0M-0.64,0L-0.58,0M-0.52,0L-0.46,0M-0.4,0L-0.34,0M-0.28,0L-0.22,0M0.22,0L0.28,0M0.34,0L0.4,0M0.46,0L0.52,0M0.58,0L0.64,0M0.7,0L0.76,0M0.82,0L0.88,0M0.94,0L1,0M0,-0.24L0.17,0L0,0.24L-0.17,0Z"]}, "legend": {"title": null, "labelFont": "Times New Roman"}}
         }},
        {"transform": [{"filter": "datum.model == 'Free Space' && datum.n == 0"}], "mark": {"type": "text", "text": "Train", "font": "Times New Roman", "fontSize": 16, "align": "left", "baseline": "alphabetic", "dx": -13, "dy": 61, "color": "black"}, "encoding": {"x": {"datum": 100}, "y": {"datum": 10}}}
      ]
    },
    {
      "title": {"text": "MLP Regression, Matra Region – RMSE"},
      "width": 408, "height": 407,
      "data": {"name": "rmse"},
      "encoding": {
        "x": {"field": "n", "type": "quantitative", "scale": {"domain": [0, 200], "nice": false}, "axis": {"values": [0, 50, 100, 150, 200], "title": "n", "titleX": 183}},
        "y": {"field": "v", "type": "quantitative", "scale": {"domain": [10, 80], "nice": false, "zero": false}, "axis": {"values": [10, 20, 30, 40, 50, 60, 70, 80], "title": "RMSE [dB]"}}
      },
      "layer": [
        {"transform": [{"filter": "datum.model == 'Free Space'"}], "mark": {"type": "line", "color": "#0072BD", "strokeWidth": 2}},
        {"transform": [{"filter": "datum.model == 'Free Space'"}], "mark": {"type": "point", "shape": "circle", "color": "#0072BD", "filled": false, "strokeWidth": 2, "size": 100, "opacity": 1}},
        {"transform": [{"filter": "datum.model == 'ITU-R P.452'"}], "mark": {"type": "line", "color": "#D95319", "strokeWidth": 2, "strokeDash": [7, 3, 2, 3]}},
        {"transform": [{"filter": "datum.model == 'ITU-R P.452'"}], "mark": {"type": "point", "shape": "square", "color": "#D95319", "filled": false, "strokeWidth": 2, "size": 72, "opacity": 1}},
        {"transform": [{"filter": "datum.model == 'ITU-R P.1546'"}], "mark": {"type": "line", "color": "#EDB120", "strokeWidth": 2, "strokeDash": [10, 6]}},
        {"transform": [{"filter": "datum.model == 'ITU-R P.1546'"}], "mark": {"type": "point", "shape": "triangle-up", "color": "#EDB120", "filled": false, "strokeWidth": 2, "size": 120, "opacity": 1}},
        {"transform": [{"filter": "datum.model == 'ITU-R P.1812'"}], "mark": {"type": "line", "color": "#7E2F8E", "strokeWidth": 2, "strokeDash": [2, 3]}},
        {"transform": [{"filter": "datum.model == 'ITU-R P.1812'"}], "mark": {"type": "point", "shape": "M0,-1.2L0.85,0L0,1.2L-0.85,0Z", "color": "#7E2F8E", "filled": false, "strokeWidth": 2, "size": 100, "opacity": 1}},
        {"transform": [{"filter": "false"}], "mark": {"type": "point", "filled": false, "strokeWidth": 2, "opacity": 1},
         "encoding": {
           "color": {"field": "model", "type": "nominal", "scale": {"domain": ["Free Space", "ITU-R P.452", "ITU-R P.1546", "ITU-R P.1812"], "range": ["#0072BD", "#D95319", "#EDB120", "#7E2F8E"]}, "legend": {"title": null, "labelFont": "Times New Roman"}},
           "shape": {"field": "model", "type": "nominal", "scale": {"domain": ["Free Space", "ITU-R P.452", "ITU-R P.1546", "ITU-R P.1812"], "range": ["M-1,0L-0.18,0M0.18,0L1,0M0.18,0A0.18,0.18,0,1,1,-0.18,0A0.18,0.18,0,1,1,0.18,0", "M-1,0L-0.78,0M-0.66,0L-0.6,0M-0.48,0L-0.26,0M-0.15,-0.15L0.15,-0.15L0.15,0.15L-0.15,0.15ZM0.26,0L0.48,0M0.6,0L0.66,0M0.78,0L1,0", "M-1,0L-0.55,0M0.55,0L1,0M0,-0.22L0.21,0.15L-0.21,0.15Z", "M-1,0L-0.94,0M-0.88,0L-0.82,0M-0.76,0L-0.7,0M-0.64,0L-0.58,0M-0.52,0L-0.46,0M-0.4,0L-0.34,0M-0.28,0L-0.22,0M0.22,0L0.28,0M0.34,0L0.4,0M0.46,0L0.52,0M0.58,0L0.64,0M0.7,0L0.76,0M0.82,0L0.88,0M0.94,0L1,0M0,-0.24L0.17,0L0,0.24L-0.17,0Z"]}, "legend": {"title": null, "labelFont": "Times New Roman"}}
         }},
        {"transform": [{"filter": "datum.model == 'Free Space' && datum.n == 0"}], "mark": {"type": "text", "text": "Train", "font": "Times New Roman", "fontSize": 16, "align": "left", "baseline": "alphabetic", "dx": -13, "dy": 61, "color": "black"}, "encoding": {"x": {"datum": 100}, "y": {"datum": 10}}}
      ]
    },
    {
      "title": {"text": "MLP Regression, Matra Region – Bias"},
      "width": 403, "height": 402,
      "data": {"name": "bias"},
      "encoding": {
        "x": {"field": "n", "type": "quantitative", "scale": {"domain": [0, 200], "nice": false}, "axis": {"values": [0, 50, 100, 150, 200], "title": "n", "titleX": 180.5}},
        "y": {"field": "v", "type": "quantitative", "scale": {"domain": [-70, 50], "nice": false, "zero": false}, "axis": {"values": [-60, -40, -20, 0, 20, 40], "title": "Bias [dB]", "labelPadding": 9}}
      },
      "layer": [
        {"transform": [{"filter": "datum.model == 'Free Space'"}], "mark": {"type": "line", "color": "#0072BD", "strokeWidth": 2}},
        {"transform": [{"filter": "datum.model == 'Free Space'"}], "mark": {"type": "point", "shape": "circle", "color": "#0072BD", "filled": false, "strokeWidth": 2, "size": 100, "opacity": 1}},
        {"transform": [{"filter": "datum.model == 'ITU-R P.452'"}], "mark": {"type": "line", "color": "#D95319", "strokeWidth": 2, "strokeDash": [7, 3, 2, 3]}},
        {"transform": [{"filter": "datum.model == 'ITU-R P.452'"}], "mark": {"type": "point", "shape": "square", "color": "#D95319", "filled": false, "strokeWidth": 2, "size": 72, "opacity": 1}},
        {"transform": [{"filter": "datum.model == 'ITU-R P.1546'"}], "mark": {"type": "line", "color": "#EDB120", "strokeWidth": 2, "strokeDash": [10, 6]}},
        {"transform": [{"filter": "datum.model == 'ITU-R P.1546'"}], "mark": {"type": "point", "shape": "triangle-up", "color": "#EDB120", "filled": false, "strokeWidth": 2, "size": 120, "opacity": 1}},
        {"transform": [{"filter": "datum.model == 'ITU-R P.1812'"}], "mark": {"type": "line", "color": "#7E2F8E", "strokeWidth": 2, "strokeDash": [2, 3]}},
        {"transform": [{"filter": "datum.model == 'ITU-R P.1812'"}], "mark": {"type": "point", "shape": "M0,-1.2L0.85,0L0,1.2L-0.85,0Z", "color": "#7E2F8E", "filled": false, "strokeWidth": 2, "size": 100, "opacity": 1}},
        {"transform": [{"filter": "false"}], "mark": {"type": "point", "filled": false, "strokeWidth": 2, "opacity": 1},
         "encoding": {
           "color": {"field": "model", "type": "nominal", "scale": {"domain": ["Free Space", "ITU-R P.452", "ITU-R P.1546", "ITU-R P.1812"], "range": ["#0072BD", "#D95319", "#EDB120", "#7E2F8E"]}, "legend": {"title": null, "labelFont": "Times New Roman"}},
           "shape": {"field": "model", "type": "nominal", "scale": {"domain": ["Free Space", "ITU-R P.452", "ITU-R P.1546", "ITU-R P.1812"], "range": ["M-1,0L-0.18,0M0.18,0L1,0M0.18,0A0.18,0.18,0,1,1,-0.18,0A0.18,0.18,0,1,1,0.18,0", "M-1,0L-0.78,0M-0.66,0L-0.6,0M-0.48,0L-0.26,0M-0.15,-0.15L0.15,-0.15L0.15,0.15L-0.15,0.15ZM0.26,0L0.48,0M0.6,0L0.66,0M0.78,0L1,0", "M-1,0L-0.55,0M0.55,0L1,0M0,-0.22L0.21,0.15L-0.21,0.15Z", "M-1,0L-0.94,0M-0.88,0L-0.82,0M-0.76,0L-0.7,0M-0.64,0L-0.58,0M-0.52,0L-0.46,0M-0.4,0L-0.34,0M-0.28,0L-0.22,0M0.22,0L0.28,0M0.34,0L0.4,0M0.46,0L0.52,0M0.58,0L0.64,0M0.7,0L0.76,0M0.82,0L0.88,0M0.94,0L1,0M0,-0.24L0.17,0L0,0.24L-0.17,0Z"]}, "legend": {"title": null, "labelFont": "Times New Roman"}}
         }},
        {"transform": [{"filter": "datum.model == 'Free Space' && datum.n == 0"}], "mark": {"type": "text", "text": "Train", "font": "Times New Roman", "fontSize": 16, "align": "left", "baseline": "alphabetic", "dx": -13, "dy": 61, "color": "black"}, "encoding": {"x": {"datum": 100}, "y": {"datum": -70}}}
      ]
    },
    {
      "title": {"text": "MLP Regression, Matra Region – P₉₀"},
      "width": 400, "height": 400,
      "data": {"name": "p90"},
      "encoding": {
        "x": {"field": "n", "type": "quantitative", "scale": {"domain": [0, 300], "nice": false}, "axis": {"values": [0, 100, 200, 300], "title": "n", "titleX": 179}},
        "y": {"field": "v", "type": "quantitative", "scale": {"domain": [20, 130], "nice": false, "zero": false}, "axis": {"values": [20, 40, 60, 80, 100, 120], "title": "P₉₀ [dB]", "titlePadding": 11}}
      },
      "layer": [
        {"transform": [{"filter": "datum.model == 'Free Space'"}], "mark": {"type": "line", "color": "#0072BD", "strokeWidth": 2}},
        {"transform": [{"filter": "datum.model == 'Free Space'"}], "mark": {"type": "point", "shape": "circle", "color": "#0072BD", "filled": false, "strokeWidth": 2, "size": 100, "opacity": 1}},
        {"transform": [{"filter": "datum.model == 'ITU-R P.452'"}], "mark": {"type": "line", "color": "#D95319", "strokeWidth": 2, "strokeDash": [7, 3, 2, 3]}},
        {"transform": [{"filter": "datum.model == 'ITU-R P.452'"}], "mark": {"type": "point", "shape": "square", "color": "#D95319", "filled": false, "strokeWidth": 2, "size": 72, "opacity": 1}},
        {"transform": [{"filter": "datum.model == 'ITU-R P.1546'"}], "mark": {"type": "line", "color": "#EDB120", "strokeWidth": 2, "strokeDash": [10, 6]}},
        {"transform": [{"filter": "datum.model == 'ITU-R P.1546'"}], "mark": {"type": "point", "shape": "triangle-up", "color": "#EDB120", "filled": false, "strokeWidth": 2, "size": 120, "opacity": 1}},
        {"transform": [{"filter": "datum.model == 'ITU-R P.1812'"}], "mark": {"type": "line", "color": "#7E2F8E", "strokeWidth": 2, "strokeDash": [2, 3]}},
        {"transform": [{"filter": "datum.model == 'ITU-R P.1812'"}], "mark": {"type": "point", "shape": "M0,-1.2L0.85,0L0,1.2L-0.85,0Z", "color": "#7E2F8E", "filled": false, "strokeWidth": 2, "size": 100, "opacity": 1}},
        {"transform": [{"filter": "false"}], "mark": {"type": "point", "filled": false, "strokeWidth": 2, "opacity": 1},
         "encoding": {
           "color": {"field": "model", "type": "nominal", "scale": {"domain": ["Free Space", "ITU-R P.452", "ITU-R P.1546", "ITU-R P.1812"], "range": ["#0072BD", "#D95319", "#EDB120", "#7E2F8E"]}, "legend": {"title": null, "labelFont": "Times New Roman"}},
           "shape": {"field": "model", "type": "nominal", "scale": {"domain": ["Free Space", "ITU-R P.452", "ITU-R P.1546", "ITU-R P.1812"], "range": ["M-1,0L-0.18,0M0.18,0L1,0M0.18,0A0.18,0.18,0,1,1,-0.18,0A0.18,0.18,0,1,1,0.18,0", "M-1,0L-0.78,0M-0.66,0L-0.6,0M-0.48,0L-0.26,0M-0.15,-0.15L0.15,-0.15L0.15,0.15L-0.15,0.15ZM0.26,0L0.48,0M0.6,0L0.66,0M0.78,0L1,0", "M-1,0L-0.55,0M0.55,0L1,0M0,-0.22L0.21,0.15L-0.21,0.15Z", "M-1,0L-0.94,0M-0.88,0L-0.82,0M-0.76,0L-0.7,0M-0.64,0L-0.58,0M-0.52,0L-0.46,0M-0.4,0L-0.34,0M-0.28,0L-0.22,0M0.22,0L0.28,0M0.34,0L0.4,0M0.46,0L0.52,0M0.58,0L0.64,0M0.7,0L0.76,0M0.82,0L0.88,0M0.94,0L1,0M0,-0.24L0.17,0L0,0.24L-0.17,0Z"]}, "legend": {"title": null, "labelFont": "Times New Roman"}}
         }},
        {"transform": [{"filter": "datum.model == 'Free Space' && datum.n == 0"}], "mark": {"type": "text", "text": "Train", "font": "Times New Roman", "fontSize": 16, "align": "left", "baseline": "alphabetic", "dx": -13, "dy": 61, "color": "black"}, "encoding": {"x": {"datum": 150}, "y": {"datum": 20}}}
      ]
    }
  ]
}
